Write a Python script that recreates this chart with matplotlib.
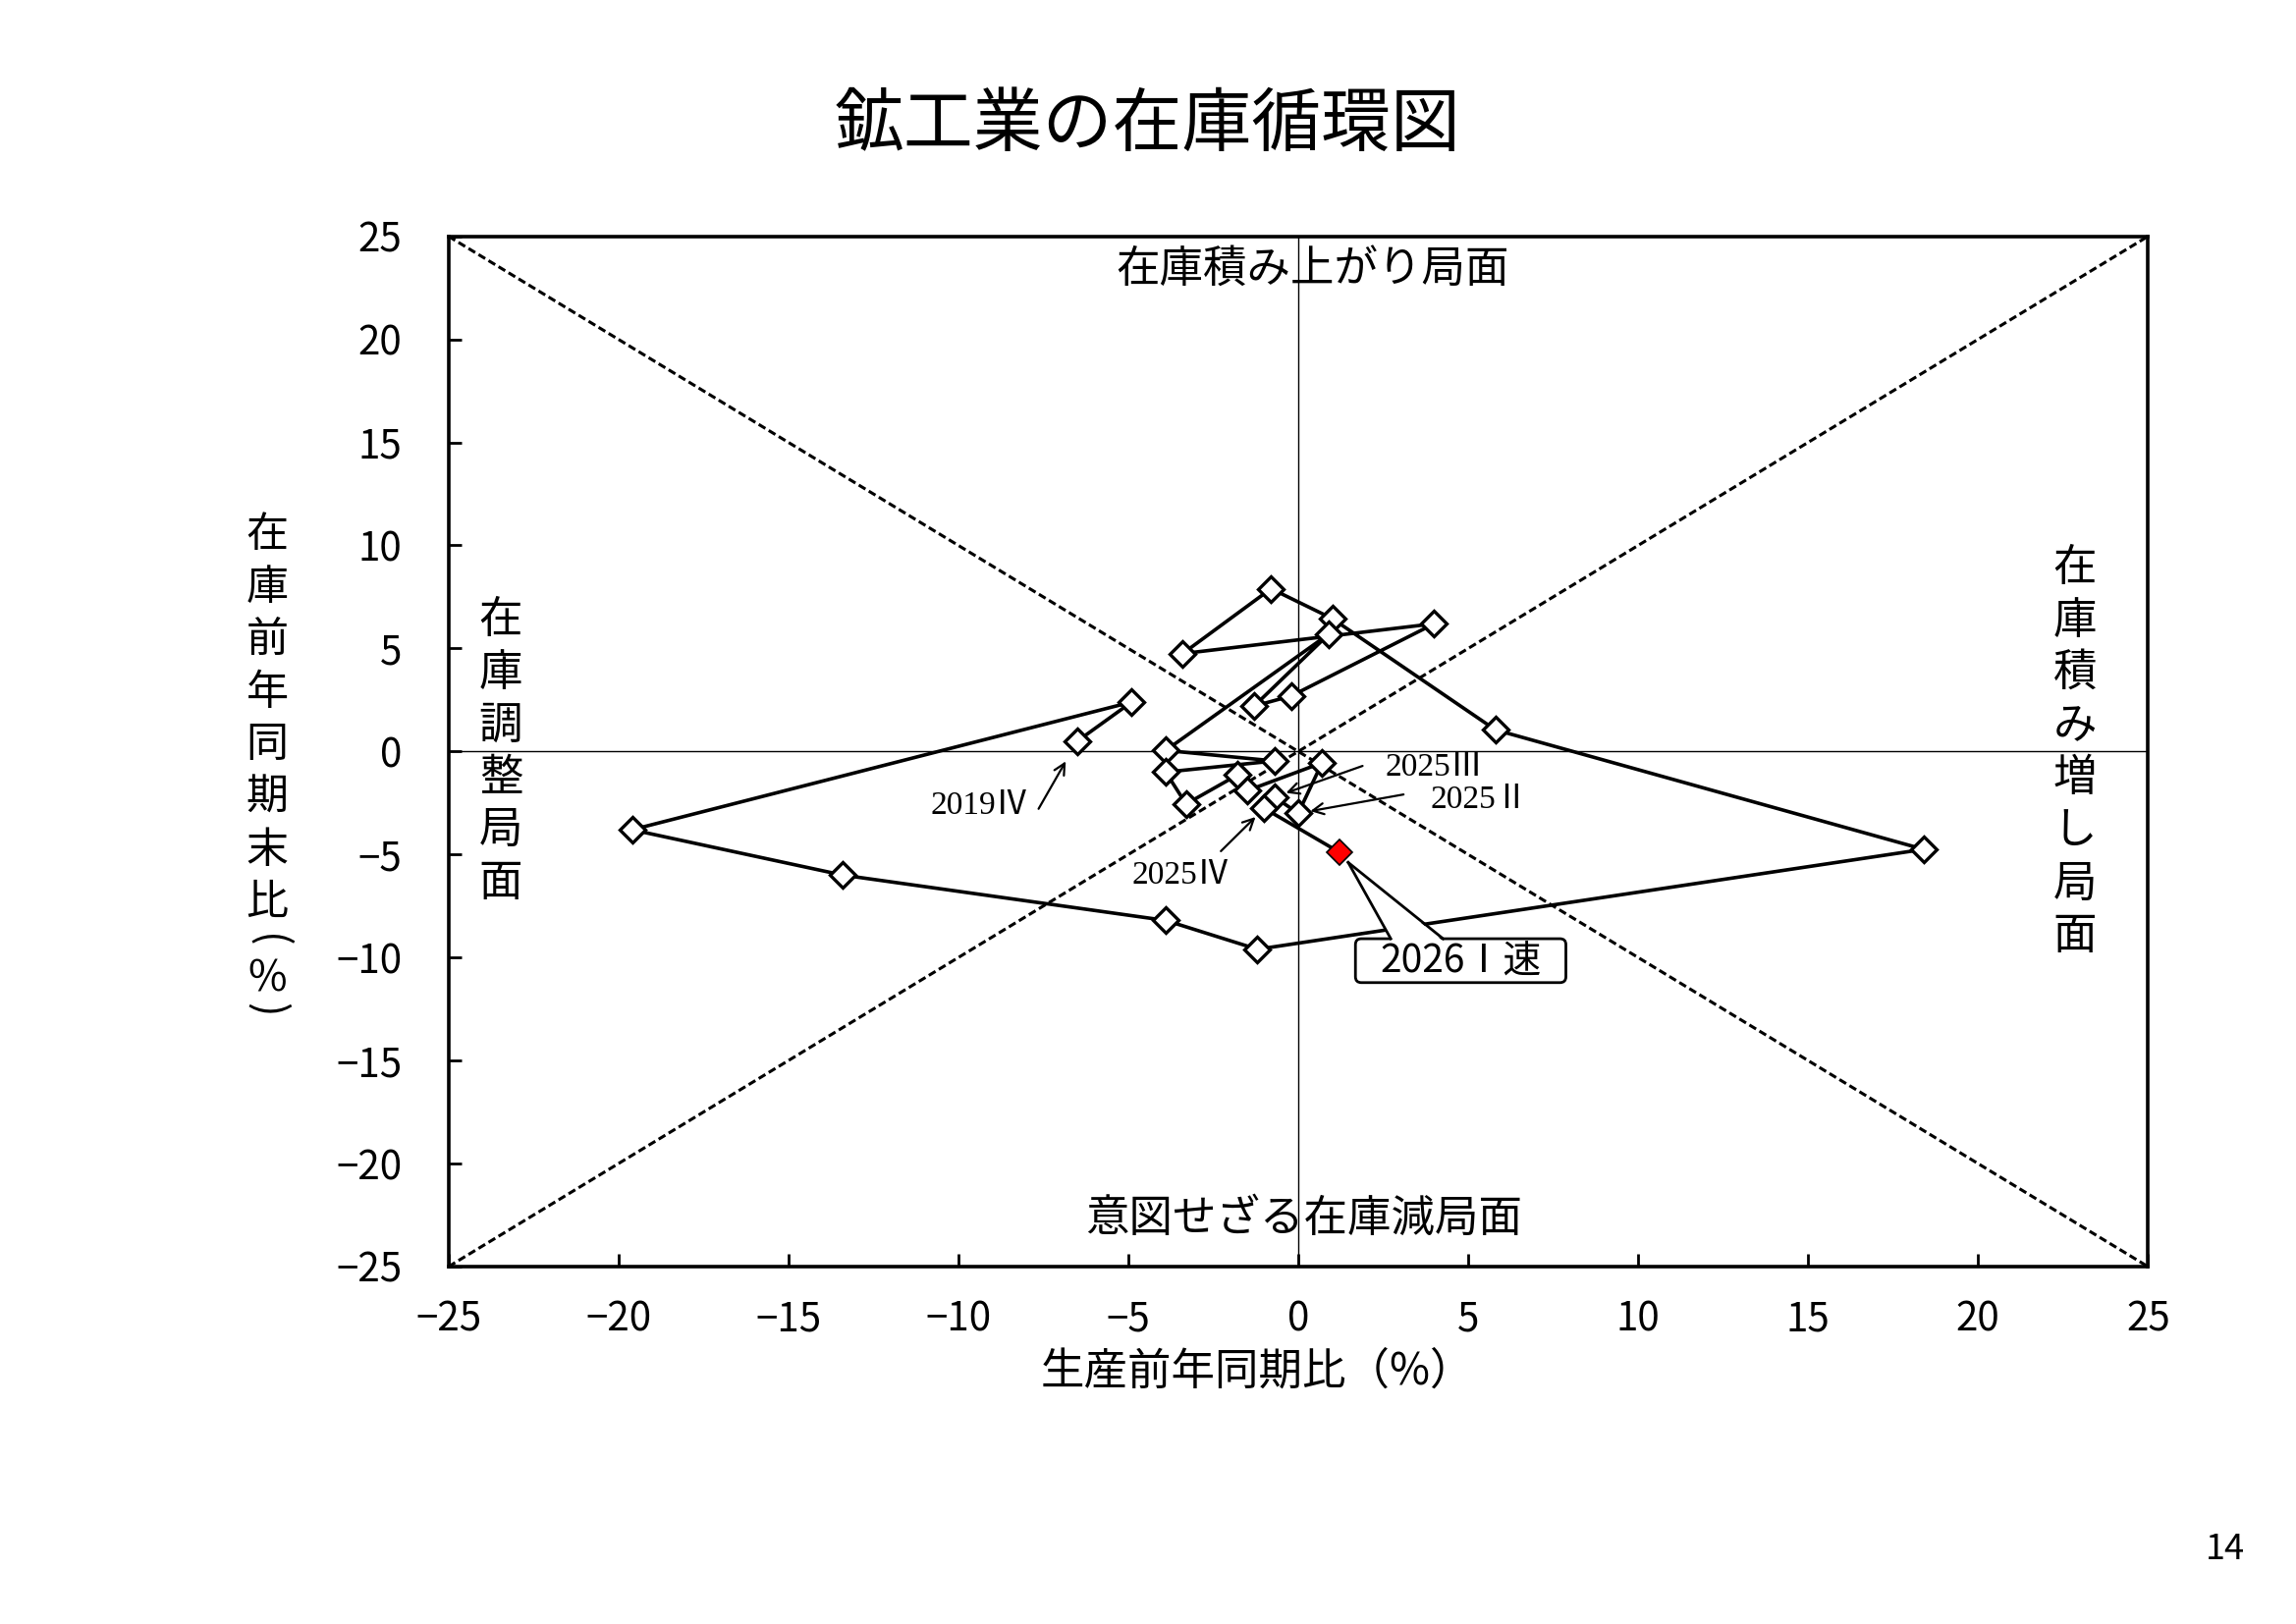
import matplotlib
matplotlib.use("Agg")
import matplotlib.pyplot as plt
import matplotlib.transforms as mtransforms
from matplotlib.patches import FancyBboxPatch, Polygon
from matplotlib.lines import Line2D

plt.rcParams['font.family'] = ['Noto Sans CJK JP', 'DejaVu Sans']

# quarterly points, 2019 IV .. 2026 I (preliminary)
periods = ['2019Ⅳ', '2020Ⅰ', '2020Ⅱ', '2020Ⅲ', '2020Ⅳ',
           '2021Ⅰ', '2021Ⅱ', '2021Ⅲ', '2021Ⅳ',
           '2022Ⅰ', '2022Ⅱ', '2022Ⅲ', '2022Ⅳ',
           '2023Ⅰ', '2023Ⅱ', '2023Ⅲ', '2023Ⅳ',
           '2024Ⅰ', '2024Ⅱ', '2024Ⅲ', '2024Ⅳ',
           '2025Ⅰ', '2025Ⅱ', '2025Ⅲ', '2025Ⅳ', '2026Ⅰ']
production = [-6.5, -4.9, -19.6, -13.4, -3.9,
              -1.2, 18.4, 5.8, 1.0,
              -0.8, -3.4, 4.0, -0.2,
              -1.3, 0.9, -3.9, -0.7,
              -3.9, -3.3, -1.8, -1.5,
              0.7, 0.0, -0.7, -1.0, 1.2]
inventory = [0.5, 2.4, -3.8, -6.0, -8.2,
             -9.6, -4.75, 1.05, 6.45,
             7.9, 4.75, 6.2, 2.7,
             2.2, 5.7, 0.05, -0.46,
             -1.0, -2.55, -1.15, -1.9,
             -0.55, -3.0, -2.21, -2.76, -4.88]

# labelled quarters: (period, label offset in pt, arrow tail offset in pt, shrink)
callouts = [('2019Ⅳ', (-36, -23.7), (-14.2, -24.8), 8.5),
            ('2025Ⅲ', (58.6, 10.7), (32.3, 11.4), 4.5),
            ('2025Ⅱ', (66.3, 4.8), (38.6, 6.9), 4.5),
            ('2025Ⅳ', (-30.7, -24.7), (-15.9, -15.7), 4.5)]

W, H = 2338, 1654
fig = plt.figure(figsize=(W / 200, H / 200), dpi=200)


def fx(x):
    return x / W


def fy(y):
    return 1 - y / H


ax = fig.add_axes([fx(456.7), fy(1290), (2187.3 - 456.7) / W, (1290 - 240.7) / H])
ax.set_xlim(-25, 25)
ax.set_ylim(-25, 25)
ax.set_xticks(range(-25, 26, 5))
ax.set_yticks(range(-25, 26, 5))
ax.tick_params(direction='in', length=4.7, width=1.0, labelsize=14.5)
ax.tick_params(axis='y', pad=17)
ax.tick_params(axis='x', pad=12)
for sp in ax.spines.values():
    sp.set_linewidth(1.3)

# guide lines
ax.axhline(0, color='black', lw=0.5, zorder=1)
ax.axvline(0, color='black', lw=0.5, zorder=1)
ax.plot([-25, 25], [25, -25], color='black', lw=1.1, ls=(0, (2.6, 1.3)), zorder=1)
ax.plot([-25, 25], [-25, 25], color='black', lw=1.1, ls=(0, (2.6, 1.3)), zorder=1)

# cycle path
ax.plot(production, inventory, color='black', lw=1.3, zorder=2)
ax.plot(production[:-1], inventory[:-1], ls='none', marker='D', ms=6.5,
        mfc='white', mec='black', mew=1.2, zorder=4)
ax.plot(production[-1:], inventory[-1:], ls='none', marker='D', ms=6.8,
        mfc='red', mec='black', mew=0.6, zorder=4)

for name, lab_off, tail_off, shrink in callouts:
    i = periods.index(name)
    pt = (production[i], inventory[i])
    ax.annotate('', xy=pt, xytext=tail_off, textcoords='offset points',
                arrowprops=dict(arrowstyle='->', lw=0.8, color='black',
                                shrinkA=0, shrinkB=shrink,
                                mutation_scale=10), zorder=3)
    ax.annotate(name, xy=pt, xytext=lab_off, textcoords='offset points',
                ha='center', va='center', fontsize=12,
                family=['Liberation Serif', 'Noto Sans CJK JP'], zorder=3)

# speech-bubble label for the latest quarter (offsets in inches from the point)
off = mtransforms.ScaledTranslation(production[-1], inventory[-1], ax.transData)
tr = fig.dpi_scale_trans + off
box = FancyBboxPatch((0.0835, -0.665), 1.0715, 0.2235,
                     boxstyle='round,pad=0,rounding_size=0.03',
                     fc='white', ec='black', lw=1.0, transform=tr,
                     clip_on=False, zorder=2.5)
fig.add_artist(box)
tip = (0.0465, -0.053)
base_l = (0.2635, -0.4415)
base_r = (0.53, -0.4415)
wedge = Polygon([tip, (base_l[0] + 0.003, base_l[1] - 0.01),
                 (base_r[0] - 0.003, base_r[1] - 0.01)],
                closed=True, fc='white', ec='none', transform=tr,
                clip_on=False, zorder=2.6)
fig.add_artist(wedge)
for b in (base_l, base_r):
    fig.add_artist(Line2D([tip[0], b[0]], [tip[1], b[1]], color='black',
                          lw=1.0, transform=tr, zorder=2.7))
fig.text(0.6195, -0.5535, '2026Ⅰ速', transform=tr, ha='center',
         va='center', fontsize=14, zorder=3)

# titles and phase labels
fig.text(fx(1169), fy(128), '鉱工業の在庫循環図', ha='center', va='center',
         fontsize=25.5)
fig.text(fx(1337), fy(275), '在庫積み上がり局面', ha='center', va='center',
         fontsize=16)
fig.text(fx(1328), fy(1241), '意図せざる在庫減局面', ha='center', va='center',
         fontsize=16)
fig.text(fx(1280), fy(1397), '生産前年同期比（%）', ha='center', va='center',
         fontsize=16)


def vtext(x, ys, chars, size=16, rots=None):
    rots = rots or [0] * len(chars)
    for ch, y, r in zip(chars, ys, rots):
        fig.text(fx(x), fy(y), ch, ha='center', va='center', fontsize=size,
                 rotation=r)


step = 53.6
vtext(510, [631 + step * k for k in range(6)], '在庫調整局面')
vtext(2113, [578 + step * k for k in range(8)], '在庫積み増し局面')
vtext(272, [545 + step * k for k in range(8)] + [958, 997, 1028],
      list('在庫前年同期末比') + ['(', '%', ')'], size=15.5,
      rots=[0] * 8 + [-90, 0, -90])

fig.text(fx(2266), fy(1578), '14', ha='center', va='center', fontsize=13)

fig.savefig('out.png', dpi=200, facecolor='white')
